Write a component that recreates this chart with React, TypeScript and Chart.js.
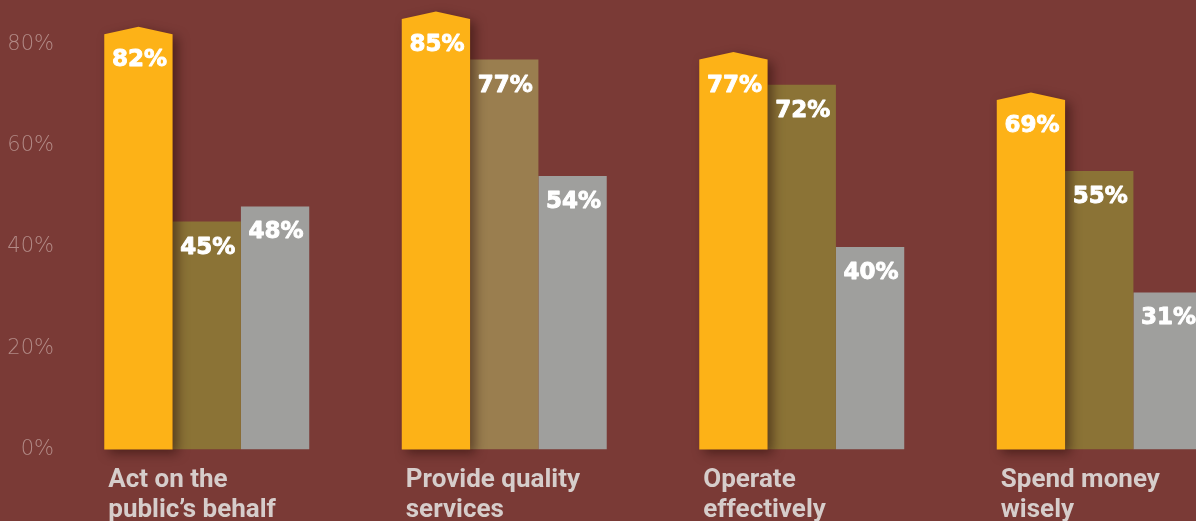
import React, { useEffect, useRef } from 'react';
import { Chart, registerables } from 'chart.js';

Chart.register(...registerables);

// ---- data ----
const categories: string[][] = [
  ['Act on the', 'public\u2019s behalf'],
  ['Provide quality', 'services'],
  ['Operate', 'effectively'],
  ['Spend money', 'wisely'],
];
const seriesA = [82, 85, 77, 69];
const seriesB = [45, 77, 72, 55];
const seriesC = [48, 54, 40, 31];
const yTicks = [0, 20, 40, 60, 80];

// ---- styles ----
const BG = '#7a3a36';
const ORANGE = '#fdb217';
const BROWN = '#8b7336';
const BROWN_LIGHT = '#9a7e4f';
const GRAY = '#9f9f9d';
const TICK_COLOR = '#b28a86';
const CAT_COLOR = '#d6cdcb';
const PEAK = 7.5;

const gablePlugin = {
  id: 'gable',
  beforeDatasetDraw(chart: any, args: any) {
    if (args.index !== 0) return;
    const ctx = chart.ctx as CanvasRenderingContext2D;
    ctx.save();
    ctx.shadowColor = 'rgba(35,10,5,0.5)';
    ctx.shadowBlur = 11;
    ctx.shadowOffsetX = 5;
    ctx.shadowOffsetY = 4;
    ctx.fillStyle = ORANGE;
    args.meta.data.forEach((bar: any) => {
      const { x, y, base, width } = bar.getProps(['x', 'y', 'base', 'width'], true);
      const l = x - width / 2;
      const r = x + width / 2;
      ctx.beginPath();
      ctx.moveTo(l, base);
      ctx.lineTo(l, y);
      ctx.lineTo(x, y - PEAK);
      ctx.lineTo(r, y);
      ctx.lineTo(r, base);
      ctx.closePath();
      ctx.fill();
    });
    ctx.restore();
    return false;
  },
};

const labelPlugin = {
  id: 'labels',
  afterDatasetsDraw(chart: any) {
    const ctx = chart.ctx as CanvasRenderingContext2D;
    ctx.save();
    ctx.fillStyle = '#ffffff';
    ctx.strokeStyle = '#ffffff';
    ctx.lineWidth = 0.9;
    ctx.lineJoin = 'round';
    ctx.font = '700 23px "DejaVu Sans"';
    ctx.textAlign = 'center';
    ctx.textBaseline = 'alphabetic';
    chart.data.datasets.forEach((ds: any, di: number) => {
      const meta = chart.getDatasetMeta(di);
      meta.data.forEach((bar: any, i: number) => {
        const { x, y } = bar.getProps(['x', 'y'], true);
        const t = ds.data[i] + '%';
        ctx.fillText(t, x + 1, y + 32);
        ctx.strokeText(t, x + 1, y + 32);
      });
    });
    // category labels
    const area = chart.chartArea;
    const meta0 = chart.getDatasetMeta(0);
    ctx.fillStyle = CAT_COLOR;
    ctx.font = '700 26px Roboto';
    ctx.textAlign = 'left';
    categories.forEach((lines, i) => {
      const bar = meta0.data[i];
      const { x, width } = bar.getProps(['x', 'width'], true);
      const left = x - width / 2 + 4;
      lines.forEach((t, li) => {
        ctx.fillText(t, left, area.bottom + 37 + li * 30);
      });
    });
    ctx.restore();
  },
};

export default function App() {
  const ref = useRef<HTMLCanvasElement>(null);
  useEffect(() => {
    if (!ref.current) return;
    const chart = new Chart(ref.current, {
      type: 'bar',
      data: {
        labels: categories.map((c) => c.join(' ')),
        datasets: [
          { label: 'Series 1', data: seriesA, backgroundColor: ORANGE, borderWidth: 0, categoryPercentage: 0.689, barPercentage: 1 },
          {
            label: 'Series 2',
            data: seriesB,
            backgroundColor: seriesB.map((_, i) => (i === 1 ? BROWN_LIGHT : BROWN)),
            borderWidth: 0,
            categoryPercentage: 0.689,
            barPercentage: 1,
          },
          { label: 'Series 3', data: seriesC, backgroundColor: GRAY, borderWidth: 0, categoryPercentage: 0.689, barPercentage: 1 },
        ],
      },
      options: {
        responsive: false,
        animation: false,
        layout: { padding: { top: 0, bottom: 71.5, left: 0, right: 0 } },
        plugins: { legend: { display: false }, tooltip: { enabled: false } },
        scales: {
          x: { display: false },
          y: {
            min: 0,
            max: 88.75,
            afterBuildTicks: (scale: any) => {
              scale.ticks = yTicks.map((v) => ({ value: v }));
            },
            afterFit: (scale: any) => {
              scale.width = 58;
              scale.paddingTop = 0;
              scale.paddingBottom = 0;
            },
            ticks: {
              padding: 4,
              color: TICK_COLOR,
              font: { family: 'DejaVu Sans', size: 21, weight: '200' as any },
              callback: (v: any) => v + '%',
            },
            grid: { display: false, drawTicks: false },
            border: { display: false },
          },
        },
      },
      plugins: [gablePlugin, labelPlugin],
    });
    return () => chart.destroy();
  }, []);
  return (
    <div
      style={{
        position: 'fixed',
        left: 0,
        top: 0,
        width: 1196,
        height: 521,
        overflow: 'hidden',
        background: BG,
      }}
    >
      <canvas ref={ref} width={1248} height={521} style={{ display: 'block' }} />
    </div>
  );
}
